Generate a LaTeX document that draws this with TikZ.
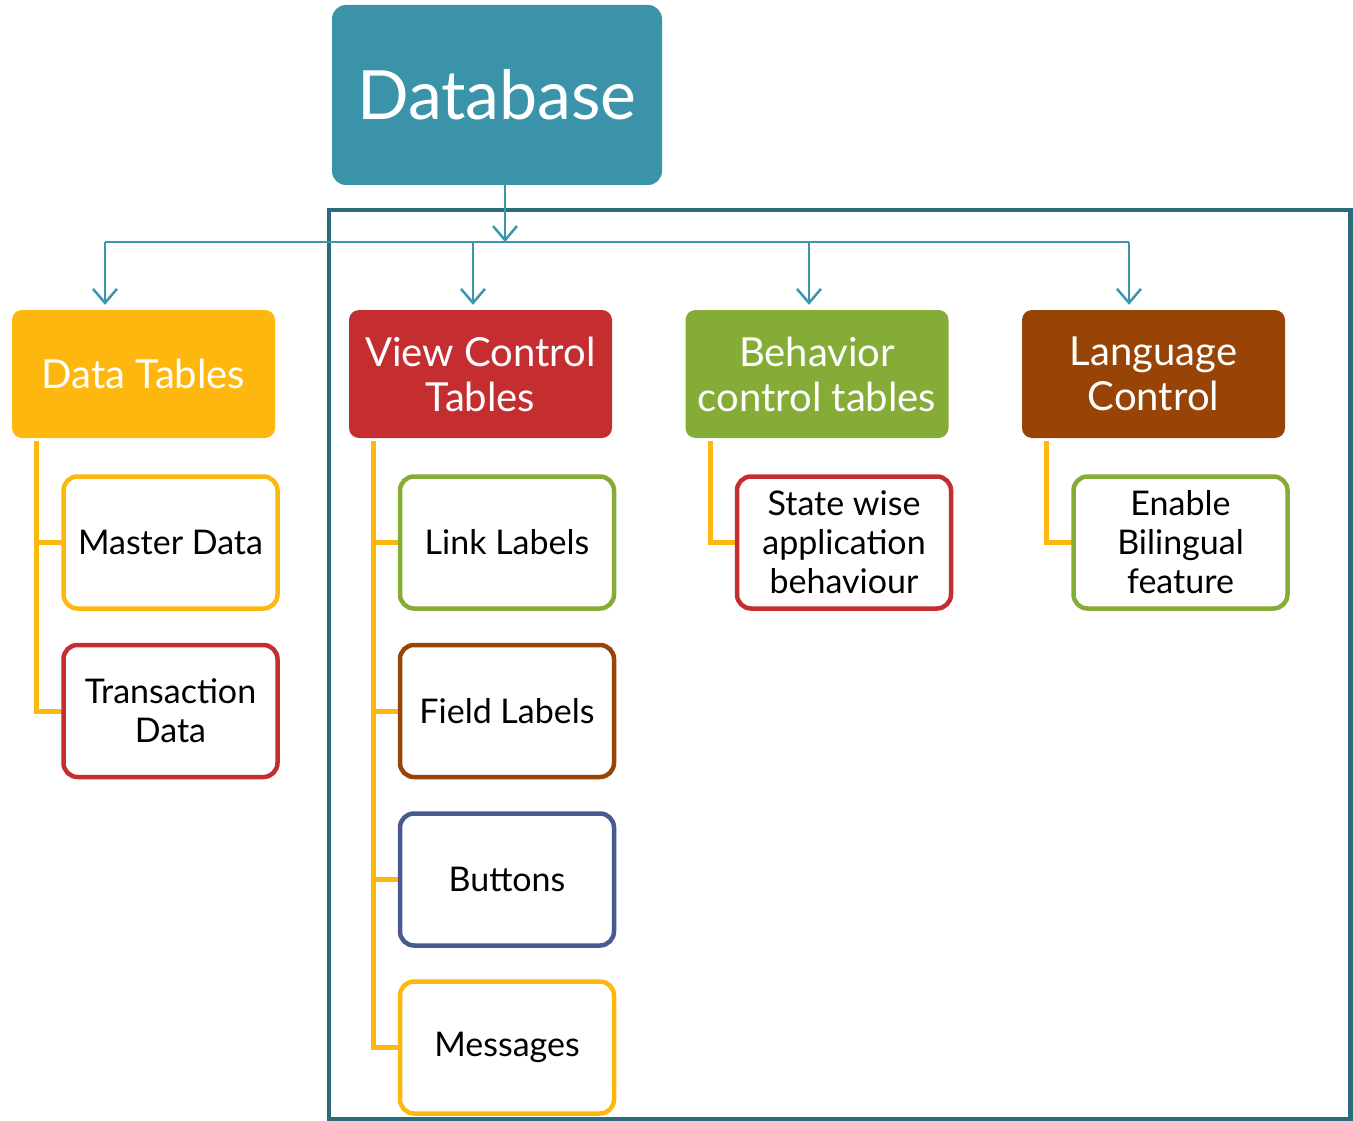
\documentclass[tikz,border=0pt]{standalone}
\usepackage{fontspec}
\setmainfont{Lato}
\usetikzlibrary{arrows.meta,calc,backgrounds}
\definecolor{dbteal}{HTML}{3A93A9}
\definecolor{frameteal}{HTML}{2B6C7C}
\definecolor{arrteal}{HTML}{3C97AE}
\definecolor{cyel}{HTML}{FDB70E}
\definecolor{cred}{HTML}{C42E30}
\definecolor{cgreen}{HTML}{85AC37}
\definecolor{cbrown}{HTML}{984406}
\definecolor{cblue}{HTML}{495A8F}
\tikzset{
  topbox/.style={rounded corners=10pt, minimum width=263pt, minimum height=128pt, inner sep=0pt, text=white, align=center, font=\fontsize{40}{45}\selectfont, fill=#1},
  childbox/.style={rounded corners=14pt, draw=#1, line width=4.5pt, fill=white, minimum width=214pt, minimum height=132pt, inner sep=0pt, align=center, font=\fontsize{34}{39}\selectfont},
  flow/.style={draw=arrteal, line width=2.5pt, -{Straight Barb[length=14pt,width=24pt,line width=2.5pt]}},
  plain/.style={draw=arrteal, line width=2.5pt},
  tree/.style={draw=cyel, line width=5pt},
}
\begin{document}
\begin{tikzpicture}[x=1pt,y=-1pt]
\useasboundingbox (0,0) rectangle (1353,1121);
% frame
\draw[frameteal, line width=4.5pt] (329,210) rectangle (1350.5,1119.5);
% database
\node[fill=dbteal, rounded corners=14pt, minimum width=330pt, minimum height=180pt, inner sep=0pt, text=white, font=\fontsize{68}{74}\selectfont] (db) at (497,95) {Database};
% top boxes
\node[topbox=cyel] (dt) at (143.5,374) {Data Tables};
\node[topbox=cred] (vc) at (480.5,374) {View Control\\Tables};
\node[topbox=cgreen] (bc) at (817,374) {Behavior\\control tables};
\node[topbox=cbrown] (lc) at (1153.5,374) {Language\\Control};
% children
\node[childbox=cyel] (md) at (170.5,542.5) {Master Data};
\node[childbox=cred] (td) at (170.5,711) {Transaction\\Data};
\node[childbox=cgreen] (ll) at (507,542.5) {Link Labels};
\node[childbox=cbrown] (fl) at (507,711) {Field Labels};
\node[childbox=cblue] (bt) at (507,879.5) {Buttons};
\node[childbox=cyel] (ms) at (507,1047.5) {Messages};
\node[childbox=cred] (sw) at (844,542.5) {State wise\\application\\behaviour};
\node[childbox=cgreen] (eb) at (1180.5,542.5) {Enable\\Bilingual\\feature};
% flow arrows
\coordinate (hub) at (505,242);
\draw[flow] (db.south -| hub) -- (hub);
\draw[plain] (105,242) -- (1129,242);
\draw[flow] (105,242) -- ($(dt.north -| 105,0)+(0,-5)$);
\draw[flow] (473,242) -- ($(vc.north -| 473,0)+(0,-5)$);
\draw[flow] (809,242) -- ($(bc.north -| 809,0)+(0,-5)$);
\draw[flow] (1129,242) -- ($(lc.north -| 1129,0)+(0,-5)$);
% trees
\begin{scope}[on background layer]
\draw[tree] ($(dt.south west)+(25,3)$) |- (td.center);
\draw[tree] ($(dt.south west)+(25,3)$) |- (md.center);
\draw[tree] ($(vc.south west)+(25,3)$) |- (ms.center);
\draw[tree] ($(vc.south west)+(25,3)$) |- (ll.center);
\draw[tree] ($(vc.south west)+(25,3)$) |- (fl.center);
\draw[tree] ($(vc.south west)+(25,3)$) |- (bt.center);
\draw[tree] ($(bc.south west)+(25,3)$) |- (sw.center);
\draw[tree] ($(lc.south west)+(25,3)$) |- (eb.center);
\end{scope}
\end{tikzpicture}
\end{document}
